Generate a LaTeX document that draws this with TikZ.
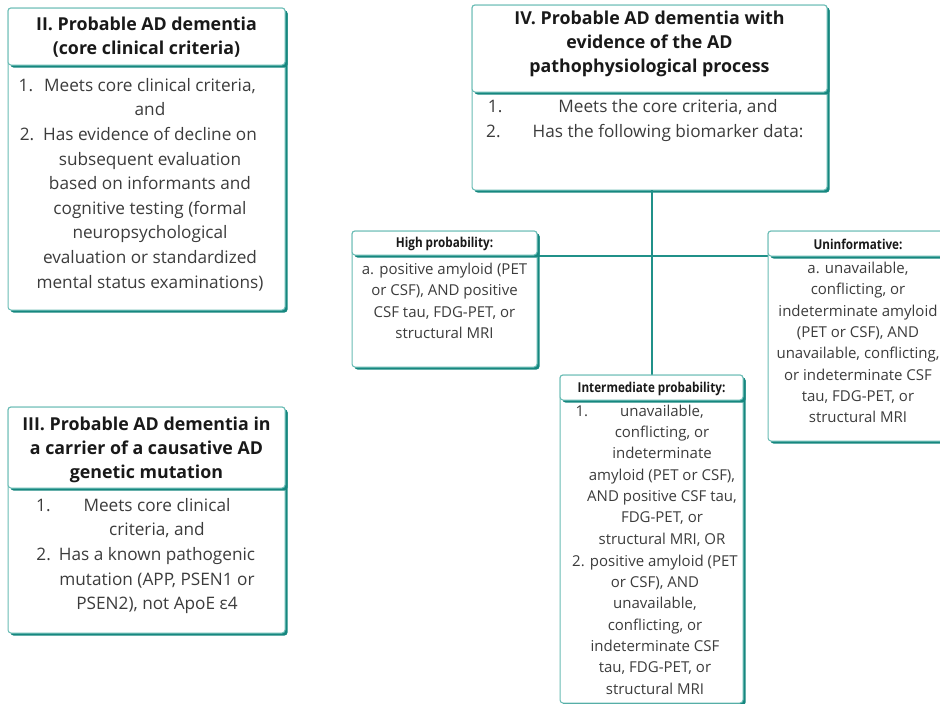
\documentclass[tikz,border=0pt]{standalone}
\usepackage{fontspec}
\setmainfont{Open Sans}
\newfontfamily\condfont{Open Sans}[FakeStretch=0.86]
\usetikzlibrary{shadows}
\definecolor{tealdark}{RGB}{22,135,127}
\definecolor{teallight}{RGB}{105,188,181}
\definecolor{tealline}{RGB}{32,145,137}
\definecolor{bodygray}{RGB}{60,60,60}
\tikzset{
  card/.style={draw=teallight, line width=1pt, fill=white, rounded corners=3pt,
    general shadow={fill=tealdark, rounded corners=3pt, shadow xshift=2.5pt, shadow yshift=-2.5pt},
    anchor=north west, inner sep=0pt, outer sep=0pt},
  bighead/.style={font=\fontsize{17.8}{24}\selectfont\bfseries, text=black!90, align=center, inner sep=0pt},
  bigbody/.style={font=\fontsize{17.2}{24.6}\selectfont, text=bodygray, align=center, inner sep=0pt},
  smallhead/.style={font=\condfont\fontsize{13.6}{15}\selectfont\bfseries, text=black!90, align=center, inner sep=0pt},
  smallbody/.style={font=\fontsize{15}{21.3}\selectfont, text=bodygray, align=center, inner sep=0pt},
  link/.style={draw=tealline, line width=2.2pt}
}
\begin{document}
\begin{tikzpicture}[x=1pt,y=-1pt]
\clip (0,0) rectangle (940,704);
\fill[white] (0,0) rectangle (940,704);

% ---- boxes (outer bodies) ----
\node[card, minimum width=277, minimum height=302] (IIb) at (8,8) {};
\node[card, minimum width=277, minimum height=57] (IIh) at (8,8) {};
\node[card, minimum width=277, minimum height=226] (IIIb) at (8,407) {};
\node[card, minimum width=277, minimum height=81] (IIIh) at (8,407) {};
\node[card, minimum width=355, minimum height=185] (IVb) at (472,5) {};
\node[card, minimum width=355, minimum height=87] (IVh) at (472,5) {};

% ---- connectors ----
\coordinate (hl) at (537,256);
\draw[link] (IVb.south -| 652,0) -- (652,375);
\draw[link] (hl) -- (768,256);

\node[card, minimum width=185, minimum height=136] (Hb) at (352,231) {};
\node[card, minimum width=185, minimum height=24] (Hh) at (352,231) {};
\node[card, minimum width=183, minimum height=328] (Mb) at (560,375) {};
\node[card, minimum width=183, minimum height=25] (Mh) at (560,375) {};
\node[card, minimum width=180, minimum height=210] (Ub) at (768,231) {};
\node[card, minimum width=180, minimum height=25] (Uh) at (768,231) {};

% ---- texts ----
\node[bighead] (IIht) at (146.5,37.5) {II. Probable AD dementia\\(core clinical criteria)};
\node[bigbody] (IIbt) at (150,184.5) {\llap{1.\hspace{11pt}}Meets core clinical criteria,\\and\\\llap{2.\hspace{9pt}}Has evidence of decline on\\subsequent evaluation\\based on informants and\\cognitive testing (formal\\neuropsychological\\evaluation or standardized\\mental status examinations)};

\node[bighead] (IIIht) at (146.5,449.5) {III. Probable AD dementia in\\a carrier of a causative AD\\genetic mutation};
\node[bigbody] (IIIbt) at (157,556) {\llap{1.\hspace{33pt}}Meets core clinical\\criteria, and\\\llap{2.\hspace{8pt}}Has a known pathogenic\\mutation (APP, PSEN1 or\\PSEN2), not ApoE ε4};

\node[bighead] (IVht) at (649.5,44) {IV. Probable AD dementia with\\evidence of the AD\\pathophysiological process};
\node[bigbody] (IVbt) at (668,120.5) {\llap{1.\hspace{56pt}}Meets the core criteria, and\\\llap{2.\hspace{32pt}}Has the following biomarker data:};

\node[smallhead] (Hht) at (444.5,244) {High probability:};
\node[smallbody] (Hbt) at (444.5,301) {a. positive amyloid (PET\\or CSF), AND positive\\CSF tau, FDG-PET, or\\structural MRI};

\node[smallhead] (Mht) at (651.5,388.5) {Intermediate probability:};
\node[smallbody] (Mbt1) at (662,475.5) {\llap{1.\hspace{32pt}}unavailable,\\conflicting, or\\indeterminate\\amyloid (PET or CSF),\\AND positive CSF tau,\\FDG-PET, or\\structural MRI, OR};
\node[smallbody] (Mbt2) at (655,624.5) {2. positive amyloid (PET\\or CSF), AND\\unavailable,\\conflicting, or\\indeterminate CSF\\tau, FDG-PET, or\\structural MRI};

\node[smallhead] (Uht) at (858,244.5) {Uninformative:};
\node[smallbody] (Ubt) at (858,342.5) {a. unavailable,\\conflicting, or\\indeterminate amyloid\\(PET or CSF), AND\\unavailable, conflicting,\\or indeterminate CSF\\tau, FDG-PET, or\\structural MRI};
\end{tikzpicture}
\end{document}
